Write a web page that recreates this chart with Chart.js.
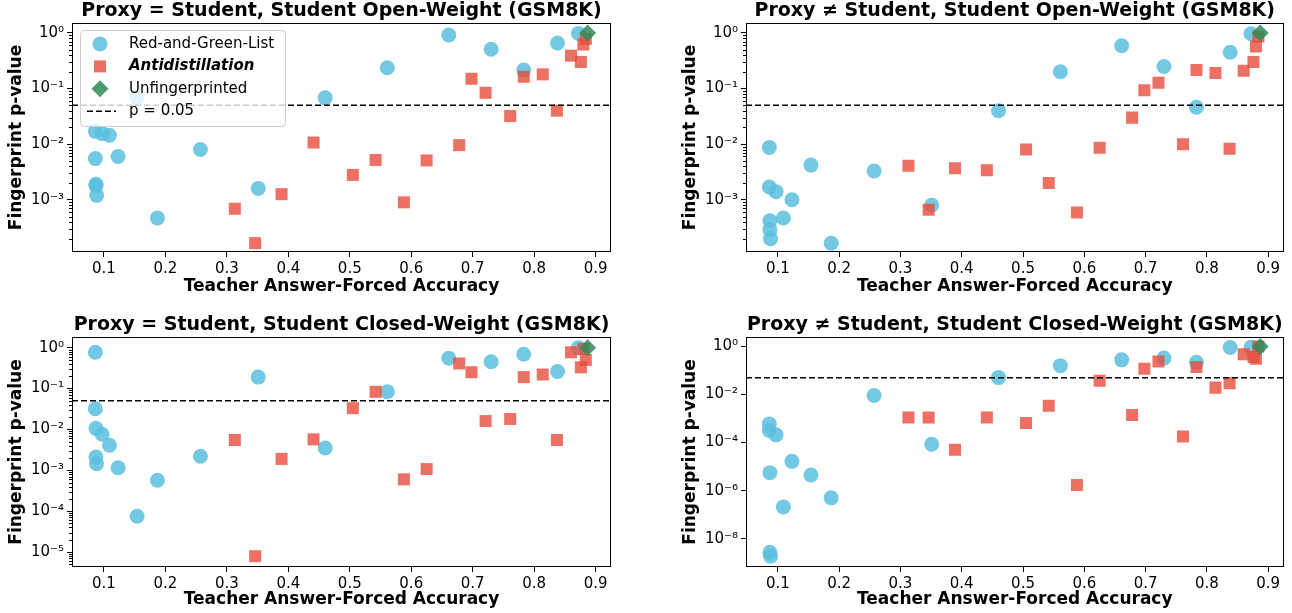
<!DOCTYPE html>
<html>
<head>
<meta charset="utf-8">
<script src="https://cdn.jsdelivr.net/npm/chart.js@4.4.0/dist/chart.umd.min.js"></script>
<style>
html, body { margin: 0; padding: 0; background: #fff; width: 1292px; height: 613px; overflow: hidden; }
.panel { position: absolute; }
</style>
</head>
<body>
<div class="panel" style="left:0px;top:0px"><canvas id="c1" width="620" height="300"></canvas></div>
<div class="panel" style="left:674px;top:0px"><canvas id="c2" width="618" height="300"></canvas></div>
<div class="panel" style="left:0px;top:314px"><canvas id="c3" width="620" height="299"></canvas></div>
<div class="panel" style="left:674px;top:314px"><canvas id="c4" width="618" height="299"></canvas></div>
<script>
// teacher answer-forced accuracy for each run
const rgAcc = [0.086, 0.086, 0.087, 0.087, 0.088, 0.097, 0.109, 0.123, 0.154, 0.187,
               0.257, 0.351, 0.460, 0.561, 0.661, 0.730, 0.783, 0.838, 0.872];
const adAcc = [0.313, 0.346, 0.389, 0.441, 0.505, 0.542, 0.588, 0.625, 0.678, 0.698,
               0.721, 0.761, 0.783, 0.814, 0.837, 0.860, 0.876, 0.880, 0.884];
const unfpAcc = [0.887];

// fingerprint p-values, one array per panel
const rgP1 = [0.017, 0.0055, 0.0019, 0.0018, 0.0012, 0.0155, 0.0145, 0.006, 0.068, 0.00047,
              0.008, 0.0016, 0.068, 0.237, 0.92, 0.51, 0.215, 0.66, 0.98];
const adP1 = [0.00069, 0.000166, 0.00126, 0.0107, 0.0028, 0.0052, 0.0009, 0.0051, 0.0096, 0.15,
              0.084, 0.032, 0.163, 0.18, 0.040, 0.39, 0.30, 0.62, 0.78];
const rgP2 = [0.0087, 0.0017, 0.00042, 0.00029, 0.0002, 0.0014, 0.00047, 0.001, 0.0042, 0.000166,
              0.0033, 0.0008, 0.040, 0.2, 0.59, 0.25, 0.046, 0.45, 0.97];
const adP2 = [0.0041, 0.00066, 0.0037, 0.0034, 0.0080, 0.0020, 0.00059, 0.0086, 0.030, 0.093,
              0.127, 0.010, 0.215, 0.19, 0.0083, 0.21, 0.30, 0.57, 0.86];
const rgP3 = [0.77, 0.032, 0.0106, 0.0021, 0.00144, 0.0076, 0.0041, 0.00115, 0.000075, 0.00057,
              0.0022, 0.19, 0.0035, 0.083, 0.55, 0.45, 0.69, 0.26, 1.0];
const adP3 = [0.0055, 0.0000079, 0.0019, 0.0057, 0.033, 0.083, 0.0006, 0.00107, 0.41, 0.25,
              0.016, 0.018, 0.19, 0.22, 0.0055, 0.77, 0.33, 0.93, 0.50];
const rgP4 = [0.0006, 0.00032, 0.0000056, 2.7e-9, 1.85e-9, 0.00021, 2.1e-7, 0.0000166, 0.0000045, 5e-7,
              0.0091, 0.000085, 0.051, 0.16, 0.28, 0.33, 0.22, 0.91, 0.94];
const adP4 = [0.0011, 0.0011, 0.00005, 0.0011, 0.00065, 0.0034, 0.0000017, 0.038, 0.0014, 0.12,
              0.24, 0.000178, 0.14, 0.0195, 0.030, 0.48, 0.37, 0.31, 1.0];
const unfpP = [1.0];

const pThreshold = 0.05;
const xTicks = [0.1, 0.2, 0.3, 0.4, 0.5, 0.6, 0.7, 0.8, 0.9];
const yTicksA = [1, 1e-1, 1e-2, 1e-3];
const yTicksB = [1, 1e-1, 1e-2, 1e-3, 1e-4, 1e-5];
const yTicksC = [1, 1e-2, 1e-4, 1e-6, 1e-8];
const xMin = 0.048, xMax = 0.925;

const titles = [
  'Proxy = Student, Student Open-Weight (GSM8K)',
  'Proxy \u2260 Student, Student Open-Weight (GSM8K)',
  'Proxy = Student, Student Closed-Weight (GSM8K)',
  'Proxy \u2260 Student, Student Closed-Weight (GSM8K)'
];

Chart.defaults.font.family = "'DejaVu Sans', sans-serif";
Chart.defaults.color = '#000';

const SUP = { '0': '\u2070', '1': '\u00b9', '2': '\u00b2', '3': '\u00b3', '4': '\u2074',
  '5': '\u2075', '6': '\u2076', '7': '\u2077', '8': '\u2078', '9': '\u2079', '-': '\u207b' };
function powLabel(v) {
  const e = Math.round(Math.log10(v));
  return '10' + String(e).split('').map(c => SUP[c]).join('');
}

function pts(xs, ys) {
  return xs.map((x, i) => ({ x: x, y: ys[i] }));
}

// title above the axes, box around them, log minor ticks
const axesDeco = {
  id: 'axesDeco',
  afterDraw(chart, args, opts) {
    const ctx = chart.ctx, a = chart.chartArea, ys = chart.scales.y;
    ctx.save();
    ctx.strokeStyle = '#000';
    ctx.lineWidth = 1;
    ctx.strokeRect(Math.round(a.left) + 0.5, Math.round(a.top) + 0.5,
                   Math.round(a.right - a.left) - 1, Math.round(a.bottom - a.top) - 1);
    if (opts.minor) {
      ctx.beginPath();
      const lo = Math.floor(Math.log10(ys.min)), hi = Math.ceil(Math.log10(ys.max));
      for (let d = lo; d <= hi; d++) {
        for (let m = 2; m <= 9; m++) {
          const v = m * Math.pow(10, d);
          if (v < ys.min || v > ys.max) continue;
          const py = Math.round(ys.getPixelForValue(v)) + 0.5;
          ctx.moveTo(a.left - 3, py);
          ctx.lineTo(a.left, py);
        }
      }
      ctx.stroke();
    }
    ctx.fillStyle = '#000';
    ctx.font = "bold 19px 'DejaVu Sans'";
    ctx.textAlign = 'center';
    ctx.textBaseline = 'middle';
    ctx.fillText(opts.title, (a.left + a.right) / 2, a.top - 12);
    ctx.restore();
  }
};

// matplotlib-style legend inside the first panel
const legendBox = {
  id: 'legendBox',
  afterDraw(chart, args, opts) {
    if (!opts.show) return;
    const ctx = chart.ctx, a = chart.chartArea;
    const x0 = a.left + 8, y0 = a.top + 7, w = 205, h = 96;
    ctx.save();
    ctx.beginPath();
    ctx.roundRect(x0 + 0.5, y0 + 0.5, w, h, 4);
    ctx.fillStyle = 'rgba(255,255,255,0.8)';
    ctx.fill();
    ctx.strokeStyle = '#cccccc';
    ctx.lineWidth = 1;
    ctx.stroke();
    chart.data.datasets.forEach((ds, i) => {
      const cy = y0 + 14 + i * 22.4;
      if (ds.showLine) {
        ctx.beginPath();
        ctx.setLineDash(ds.borderDash);
        ctx.strokeStyle = ds.borderColor;
        ctx.lineWidth = ds.borderWidth;
        ctx.moveTo(x0 + 7, cy);
        ctx.lineTo(x0 + 36, cy);
        ctx.stroke();
        ctx.setLineDash([]);
      } else {
        ctx.fillStyle = ds.backgroundColor;
        Chart.helpers.drawPoint(ctx, { pointStyle: ds.pointStyle, radius: ds.pointRadius, rotation: 0, borderWidth: 0 }, x0 + 20, cy);
      }
      ctx.fillStyle = '#000';
      ctx.font = ds.legendFont || "15px 'DejaVu Sans'";
      ctx.textAlign = 'left';
      ctx.textBaseline = 'middle';
      ctx.fillText(ds.label, x0 + 49, cy);
    });
    ctx.restore();
  }
};

function makePanel(id, title, rgP, adP, yMin, yMax, yTicks, minor, showLegend, padRight, xHeight) {
  const ctx = document.getElementById(id).getContext('2d');
  return new Chart(ctx, {
    type: 'scatter',
    data: {
      datasets: [{
        label: 'Red-and-Green-List',
        data: pts(rgAcc, rgP),
        pointStyle: 'circle',
        pointRadius: 7.5,
        pointHoverRadius: 7.5,
        backgroundColor: 'rgba(91,192,222,0.85)',
        borderWidth: 0,
        order: 3
      }, {
        label: 'Antidistillation',
        legendFont: "italic bold 15px 'DejaVu Sans'",
        data: pts(adAcc, adP),
        pointStyle: 'rect',
        pointRadius: 8.5,
        pointHoverRadius: 8.5,
        backgroundColor: 'rgba(231,76,60,0.8)',
        borderWidth: 0,
        order: 2
      }, {
        label: 'Unfingerprinted',
        data: pts(unfpAcc, unfpP),
        pointStyle: 'rectRot',
        pointRadius: 8.5,
        pointHoverRadius: 8.5,
        backgroundColor: 'rgba(46,139,87,0.85)',
        borderWidth: 0,
        order: 1
      }, {
        label: 'p = 0.05',
        data: [{ x: xMin, y: pThreshold }, { x: xMax, y: pThreshold }],
        showLine: true,
        borderColor: '#000',
        borderWidth: 1.5,
        borderDash: [6, 3],
        pointRadius: 0,
        order: 0
      }]
    },
    options: {
      responsive: false,
      animation: false,
      events: [],
      layout: { padding: { top: 23, right: padRight, left: 0, bottom: 0 } },
      plugins: {
        legend: { display: false },
        tooltip: { enabled: false },
        axesDeco: { title: title, minor: minor },
        legendBox: { show: showLegend }
      },
      scales: {
        x: {
          type: 'linear',
          min: xMin,
          max: xMax,
          afterBuildTicks: s => { s.ticks = xTicks.map(v => ({ value: v })); },
          afterFit: s => { s.height = xHeight; },
          ticks: { autoSkip: false, maxRotation: 0, padding: 3, font: { size: 15 },
                   callback: v => v.toFixed(1) },
          grid: { display: true, drawOnChartArea: false, drawTicks: true, tickLength: 5, tickColor: '#000' },
          border: { display: false },
          title: { display: true, text: 'Teacher Answer-Forced Accuracy',
                   font: { size: 17, weight: 'bold' }, padding: { top: 0, bottom: 3 } }
        },
        y: {
          type: 'logarithmic',
          min: yMin,
          max: yMax,
          afterBuildTicks: s => { s.ticks = yTicks.map(v => ({ value: v })); },
          afterFit: s => { s.width = 72; },
          ticks: { autoSkip: false, padding: 3, font: { size: 15 }, callback: v => powLabel(v) },
          grid: { display: true, drawOnChartArea: false, drawTicks: true, tickLength: 5, tickColor: '#000' },
          border: { display: false },
          title: { display: true, text: 'Fingerprint p-value',
                   font: { size: 17, weight: 'bold' }, padding: { top: 6, bottom: 0 } }
        }
      }
    },
    plugins: [axesDeco, legendBox]
  });
}

makePanel('c1', titles[0], rgP1, adP1, 1.15e-4, 1.51, yTicksA, true, true, 9, 48);
makePanel('c2', titles[1], rgP2, adP2, 1.15e-4, 1.51, yTicksA, true, false, 7.5, 48);
makePanel('c3', titles[2], rgP3, adP3, 4.3e-6, 1.82, yTicksB, true, false, 9, 46);
makePanel('c4', titles[3], rgP4, adP4, 6.6e-10, 2.5, yTicksC, false, false, 7.5, 46);
</script>
</body>
</html>
